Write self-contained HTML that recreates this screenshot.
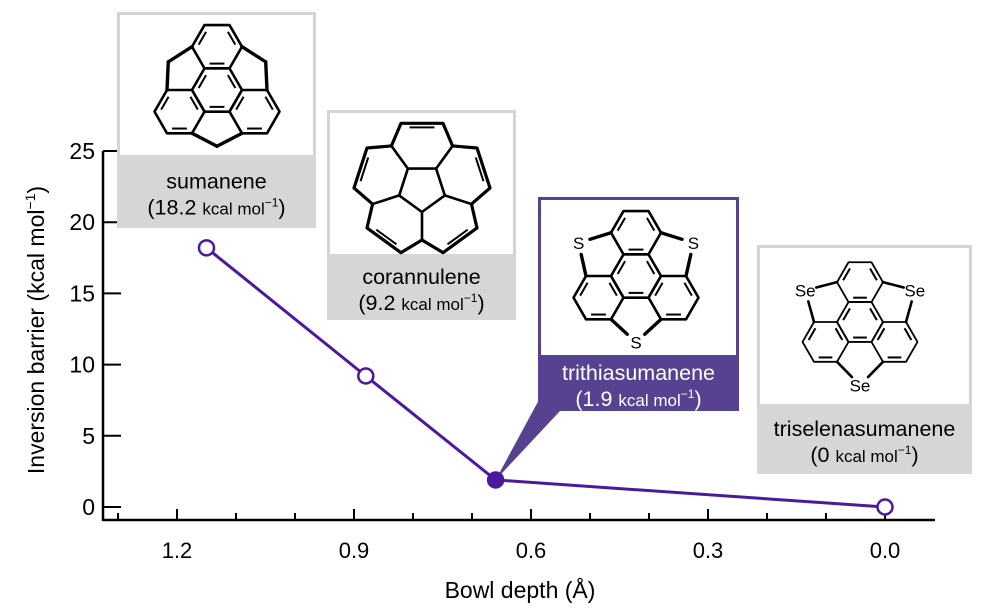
<!DOCTYPE html>
<html><head><meta charset="utf-8">
<style>
html,body{margin:0;padding:0;background:#fff;}
svg{display:block;font-family:"Liberation Sans",Arial,sans-serif;}
</style></head>
<body>
<svg id="chart" width="982" height="615" viewBox="0 0 982 615">
<g id="axes"></g>
<g id="boxes"></g>
<g id="series"></g>
<text x="520" y="598" font-size="23" text-anchor="middle">Bowl depth (Å)</text>
<text transform="translate(44,330) rotate(-90)" font-size="23" text-anchor="middle">Inversion barrier (kcal mol<tspan font-size="14" dy="-9">−1</tspan><tspan dy="9">)</tspan></text>
</svg>
<script>
const categories = ["sumanene","corannulene","trithiasumanene","triselenasumanene"];
const bowlDepth = [1.15, 0.88, 0.66, 0.0];
const barrier = [18.2, 9.2, 1.9, 0];
const filled = [false, false, true, false];
const xTicks = [1.2, 0.9, 0.6, 0.3, 0.0];
const xTickLabels = ["1.2","0.9","0.6","0.3","0.0"];
const xMinor = [1.3,1.1,1.0,0.8,0.7,0.5,0.4,0.2,0.1];
const yTicks = [0,5,10,15,20,25];

const NS="http://www.w3.org/2000/svg";
function X(v){return 885 - v*590;}
function Y(v){return 507 - v*14.24;}
function mk(tag,attrs,parent){const e=document.createElementNS(NS,tag);for(const k in attrs)e.setAttribute(k,attrs[k]);parent.appendChild(e);return e;}

const axes=document.getElementById('axes');
let e=mk('line',{x1:103,y1:520,x2:935,y2:520,stroke:'#000','stroke-width':2.5},axes);


e=mk('line',{x1:103,y1:151,x2:103,y2:521,stroke:'#000','stroke-width':2.5},axes);


xTicks.forEach((t,i)=>{
  const l=mk('line',{x1:X(t),y1:520,x2:X(t),y2:509,stroke:'#000','stroke-width':2},axes);
  
  
  const tx=mk('text',{x:X(t),y:558,'font-size':22,'text-anchor':'middle'},axes);
  tx.textContent=xTickLabels[i];
  
  
});
xMinor.forEach(t=>{
  const l=mk('line',{x1:X(t),y1:520,x2:X(t),y2:513,stroke:'#000','stroke-width':2},axes);
  
  
});
yTicks.forEach(t=>{
  const l=mk('line',{x1:103,y1:Y(t),x2:121,y2:Y(t),stroke:'#000','stroke-width':2},axes);
  
  
  const tx=mk('text',{x:95,y:Y(t)+8,'font-size':23,'text-anchor':'end'},axes);
  tx.textContent=String(t);
  
  
});

function rot(p,c,a){const r=a*Math.PI/180,dx=p[0]-c[0],dy=p[1]-c[1];return [c[0]+dx*Math.cos(r)-dy*Math.sin(r),c[1]+dx*Math.sin(r)+dy*Math.cos(r)];}
function hexOnEdge(p1,p2,away){
  const mx=(p1[0]+p2[0])/2,my=(p1[1]+p2[1])/2;const dx=p2[0]-p1[0],dy=p2[1]-p1[1];const s=Math.hypot(dx,dy);
  let nx=-dy/s,ny=dx/s;if((mx-away[0])*nx+(my-away[1])*ny<0){nx=-nx;ny=-ny;}
  const c=[mx+nx*s*Math.sqrt(3)/2,my+ny*s*Math.sqrt(3)/2];
  const vs=[p1];let p=p1;
  let a= (rot(p1,c,60)[0]-p2[0])**2+(rot(p1,c,60)[1]-p2[1])**2<1e-3 ? -60 : 60;
  for(let i=0;i<5;i++){p=rot(p,c,a);vs.push(p);}
  return {c,vs};
}
function poly(g,vs,col,w){mk('polygon',{points:vs.map(v=>v.join(',')).join(' '),fill:'none',stroke:col,'stroke-width':w,'stroke-linejoin':'round'},g);}
function ln(g,a,b,col,w){mk('line',{x1:a[0],y1:a[1],x2:b[0],y2:b[1],stroke:col,'stroke-width':w,'stroke-linecap':'round'},g);}
function inner(g,a,b,c,col){const f=0.22;const p=[a[0]+(c[0]-a[0])*f,a[1]+(c[1]-a[1])*f],q=[b[0]+(c[0]-b[0])*f,b[1]+(c[1]-b[1])*f];
  const m=0.12;mk('line',{x1:p[0]+(q[0]-p[0])*m,y1:p[1]+(q[1]-p[1])*m,x2:q[0]-(q[0]-p[0])*m,y2:q[1]-(q[1]-p[1])*m,stroke:col,'stroke-width':2},g);}

function triphenylene(g,cx,cy,s,bridge,col,w){
  const C=[cx,cy];const cv=[];for(let k=0;k<6;k++){const a=(k*60)*Math.PI/180;cv.push([cx+s*Math.cos(a),cy+s*Math.sin(a)]);}
  poly(g,cv,col,w);
  const rings=[];[[4,5],[0,1],[2,3]].forEach(([i,j])=>{const h=hexOnEdge(cv[i],cv[j],C);rings.push(h);poly(g,h.vs,col,w);
    for(let k=1;k<6;k+=2)inner(g,h.vs[k],h.vs[(k+1)%6],h.c,col);});
  inner(g,cv[1],cv[2],C,col);inner(g,cv[3],cv[4],C,col);inner(g,cv[5],cv[0],C,col);
  [[0,2,210],[0,1,330],[1,2,90]].forEach(([r1,r2,ang])=>{
    const d=bridge.d*s;const a=ang*Math.PI/180;const B=[cx+d*Math.cos(a),cy+d*Math.sin(a)];
    [r1,r2].forEach(r=>{let best=null,bd=1e9;rings[r].vs.forEach(v=>{const dd=Math.hypot(v[0]-B[0],v[1]-B[1]);if(dd<bd){bd=dd;best=v;}});
      const ex=bridge.label?0.35:0;const end=[B[0]+(best[0]-B[0])*ex,B[1]+(best[1]-B[1])*ex];
      ln(g,best,end,col,w+0.8);});
    if(bridge.label){const t=mk('text',{x:B[0],y:B[1]+6,'font-size':17,'text-anchor':'middle',fill:col},g);t.textContent=bridge.label;}
  });
}
function corannulene(g,cx,cy,col,w){
  const r1=24,r2=52,r3=68,da=18;
  const at=(r,a)=>[cx+r*Math.cos(a*Math.PI/180),cy+r*Math.sin(a*Math.PI/180)];
  const angs=[-126,-54,18,90,162];
  const pv=angs.map(a=>at(r1,a)), sv=angs.map(a=>at(r2,a));
  poly(g,pv,col,w);
  for(let k=0;k<5;k++)ln(g,pv[k],sv[k],col,w);
  const outer=[];
  for(let k=0;k<5;k++){const m=angs[k]+36;outer.push(sv[k],at(r3,m-da),at(r3,m+da));}
  poly(g,outer,col,w+0.6);
  for(let k=0;k<5;k++){const m=angs[k]+36;const a=at(r3,m-da),b=at(r3,m+da);const c=at((r1+r3)/2,m);inner(g,a,b,c,col);}
}

const boxes=document.getElementById('boxes');
const cards=[
 {x:117,y:12,w:199,h:216,lh:73,name:"sumanene",val:"18.2",border:"#d4d4d4",fill:"#d6d6d6",txt:"#000"},
 {x:327,y:110,w:189,h:210,lh:66,name:"corannulene",val:"9.2",border:"#d4d4d4",fill:"#d6d6d6",txt:"#000"},
 {x:538,y:197,w:201,h:214,lh:56,name:"trithiasumanene",val:"1.9",border:"#574291",fill:"#574291",txt:"#fff"},
 {x:757,y:245,w:215,h:229,lh:70,name:"triselenasumanene",val:"0",border:"#d4d4d4",fill:"#d6d6d6",txt:"#000"}
];
e=mk('polygon',{points:`540,398 560,411 ${X(bowlDepth[2])},${Y(barrier[2])}`,fill:'#574291'},boxes);


cards.forEach((c,i)=>{
  const g=mk('g',{},boxes);
  
  
  mk('rect',{x:c.x+1.5,y:c.y+1.5,width:c.w-3,height:c.h-3,fill:'#fff',stroke:c.border,'stroke-width':3},g);
  mk('rect',{x:c.x,y:c.y+c.h-c.lh,width:c.w,height:c.lh,fill:c.fill},g);
  const cxm=c.x+c.w/2, ly=c.y+c.h-c.lh;
  const t1=mk('text',{x:cxm,y:ly+c.lh/2-3,'font-size':21.5,'text-anchor':'middle',fill:c.txt},g);t1.textContent=c.name;
  
  
  const t2=mk('text',{x:cxm,y:ly+c.lh/2+23,'font-size':21.5,'text-anchor':'middle',fill:c.txt},g);
  t2.innerHTML='('+c.val+' <tspan font-size="17">kcal mol</tspan><tspan font-size="12" dy="-8">−1</tspan><tspan dy="8">)</tspan>';
  
  
});
const mg=mk('g',{},boxes);


triphenylene(mk('g',{},mg),217,90,25,{d:2.25},'#000',2.6);
corannulene(mk('g',{},mg),422,188,'#000',2.6);
triphenylene(mk('g',{},mg),636,276,25,{d:2.65,label:'S'},'#000',2.6);
triphenylene(mk('g',{},mg),860,322,23,{d:2.75,label:'Se'},'#000',1.8);

const series=document.getElementById('series');
const pts=bowlDepth.map((d,i)=>[X(d),Y(barrier[i])]);
e=mk('polyline',{points:pts.map(p=>p.join(',')).join(' '),fill:'none',stroke:'#4b1a9c','stroke-width':3},series);


pts.forEach((p,i)=>{
  const c=mk('circle',{cx:p[0],cy:p[1],r:7.5,fill:filled[i]?'#4b1a9c':'#fff',stroke:'#4b1a9c','stroke-width':2.5},series);
  
  
});
</script>
</body></html>
